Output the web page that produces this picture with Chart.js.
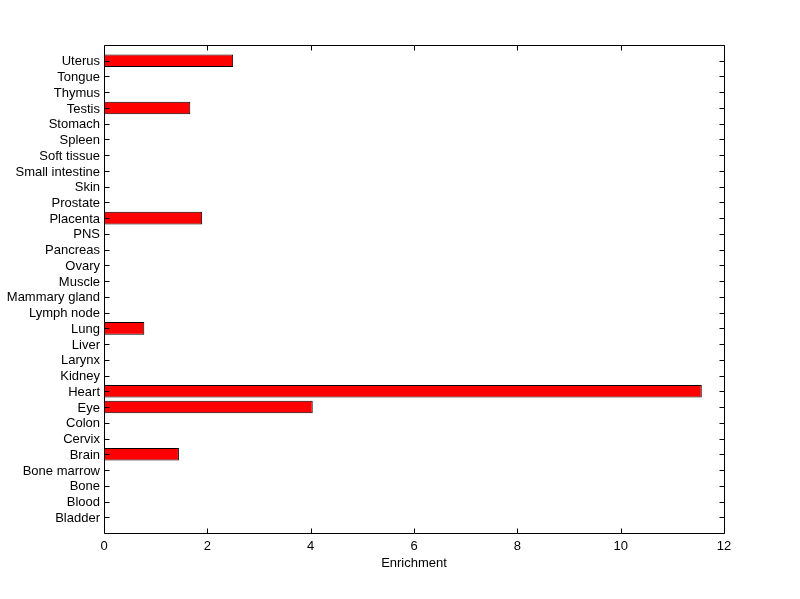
<!DOCTYPE html>
<html><head><meta charset="utf-8">
<script src="https://cdn.jsdelivr.net/npm/chart.js@4/dist/chart.umd.min.js"></script>
<style>html,body{margin:0;padding:0;background:#fff}#wrap{width:800px;height:599px}</style>
</head><body><div id="wrap"><canvas id="c" width="800" height="599"></canvas></div>
<script>
// Categories top to bottom
const categories = ['Uterus','Tongue','Thymus','Testis','Stomach','Spleen','Soft tissue','Small intestine','Skin','Prostate','Placenta','PNS','Pancreas','Ovary','Muscle','Mammary gland','Lymph node','Lung','Liver','Larynx','Kidney','Heart','Eye','Colon','Cervix','Brain','Bone marrow','Bone','Blood','Bladder'];
const enrichment = [2.50,0,0,1.67,0,0,0,0,0,0,1.90,0,0,0,0,0,0,0.78,0,0,0,11.57,4.04,0,0,1.45,0,0,0,0];
const xTicks = [0,2,4,6,8,10,12];
const xTitle = 'Enrichment';

// pad with empty slots so the axis spans one extra category on each side
const labels = [''].concat(categories, ['']);
const values = [null].concat(enrichment.map(v => v === 0 ? null : v), [null]);

const FONT = {family: '"Liberation Sans", Arial, sans-serif', size: 13};

const frameTicks = {
  id: 'frameTicks',
  afterDraw(chart) {
    const ctx = chart.ctx, a = chart.chartArea;
    const xs = chart.scales.x, ys = chart.scales.y;
    const L = Math.round(a.left) + 0.5, R = Math.round(a.right) + 0.5;
    const T = Math.round(a.top) + 0.5, B = Math.round(a.bottom) + 0.5;
    ctx.save();
    ctx.strokeStyle = '#000'; ctx.lineWidth = 1;
    ctx.beginPath();
    ctx.rect(L, T, R - L, B - T);
    const tl = 5;
    for (let i = 1; i <= categories.length; i++) {
      const y = Math.round(ys.getPixelForValue(i)) + 0.5;
      ctx.moveTo(L, y); ctx.lineTo(L + tl, y);
      ctx.moveTo(R, y); ctx.lineTo(R - tl, y);
    }
    xTicks.forEach(v => {
      const x = Math.round(xs.getPixelForValue(v)) + 0.5;
      ctx.moveTo(x, B); ctx.lineTo(x, B - tl);
      ctx.moveTo(x, T); ctx.lineTo(x, T + tl);
    });
    ctx.stroke();
    ctx.restore();
  }
};

new Chart(document.getElementById('c'), {
  type: 'bar',
  data: {
    labels: labels,
    datasets: [{
      data: values,
      backgroundColor: '#ff0000',
      borderColor: '#000000',
      borderWidth: 1,
      borderSkipped: false,
      barPercentage: 0.8,
      categoryPercentage: 1.0
    }]
  },
  options: {
    indexAxis: 'y',
    responsive: false,
    animation: false,
    events: [],
    layout: {padding: {left: 0, right: 76, top: 45, bottom: 0}},
    plugins: {legend: {display: false}, tooltip: {enabled: false}},
    scales: {
      x: {
        type: 'linear', min: 0, max: 12,
        afterBuildTicks(s) { s.ticks = xTicks.map(v => ({value: v})); },
        afterFit(s) { s.height = 66; },
        grid: {display: false, drawTicks: false},
        border: {display: false},
        ticks: {color: '#000', font: FONT, padding: 6, maxRotation: 0},
        title: {display: true, text: xTitle, color: '#000', font: FONT, padding: {top: 2, bottom: 28}}
      },
      y: {
        type: 'category', offset: false,
        afterFit(s) { s.width = 104; },
        grid: {display: false, drawTicks: false},
        border: {display: false},
        ticks: {color: '#000', font: FONT, padding: 4, autoSkip: false, labelOffset: 1}
      }
    }
  },
  plugins: [frameTicks]
});
</script></body></html>
